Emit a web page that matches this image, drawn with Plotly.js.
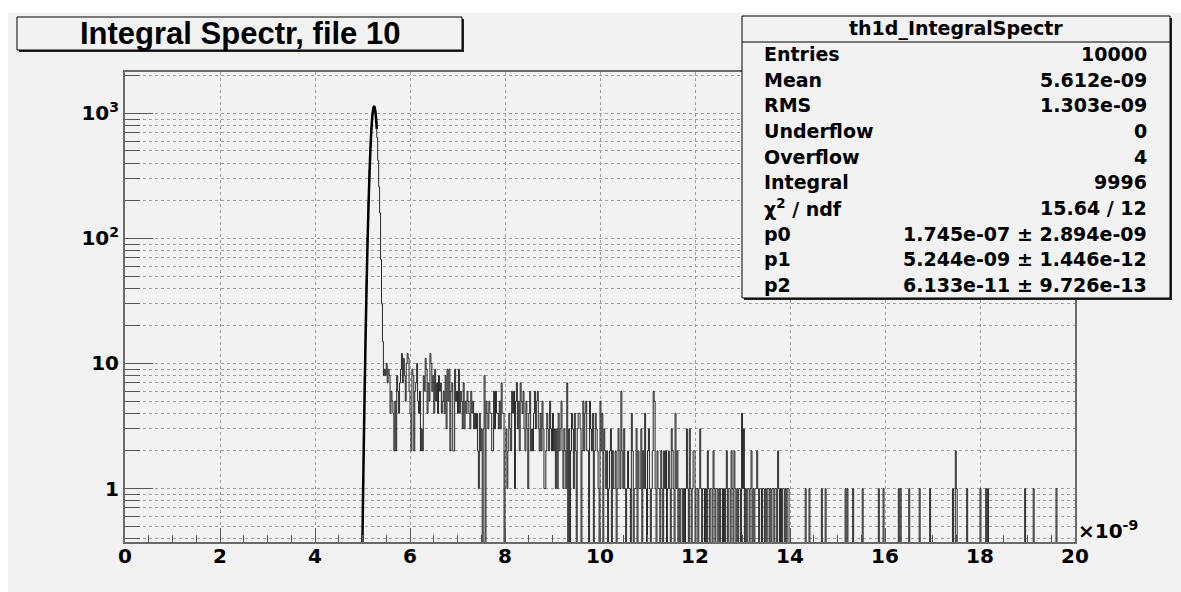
<!DOCTYPE html>
<html><head><meta charset="utf-8">
<script src="https://cdn.plot.ly/plotly-3.0.1.min.js"></script>
<style>html,body{margin:0;padding:0;background:#fff}</style>
</head><body><div id="chart" style="width:1181px;height:592px"></div>
<script>
// ---------- DATA ----------
const binWidth = 0.02;       // 1000 bins over [0, 20] (x 1e-9)
const nBins = 1000;

// peak region, bins starting at 4.98
const peakStart = 4.98;
const peakCounts = [0,1,3,8,21,47,102,198,352,545,772,968,1108,1135,1040,860,640,420,258,160,68,30,15,8];

// tail 5.46 .. 7.44
const tailAStart = 5.46;
const tailA = [9,8,10,7,9,8,4,6,5,4,
 2,5,2,8,6,4,7,9,12,7,
 11,8,5,10,12,11,6,4,2,9,
 8,2,6,7,10,5,4,6,2,3,
 2,8,6,11,9,4,7,5,12,10,
 6,8,4,9,5,7,4,8,6,7,
 4,5,6,4,8,3,9,5,9,2,
 6,7,2,2,9,5,6,4,9,4,
 6,5,3,7,3,5,4,6,5,4,
 3,6,4,5,3,4,3,4,2,1];

// tail 7.46 .. 9.52
const tailBStart = 7.46;
const tailB = [4,2,3,0,3,8,0,5,4,3,
 5,4,4,2,2,6,3,6,4,4,
 3,5,3,7,4,4,0,2,3,1,
 2,4,3,2,6,4,6,1,5,7,
 3,5,2,7,5,4,6,3,2,5,
 3,1,4,6,2,3,2,4,6,3,
 5,6,3,2,4,2,5,3,1,1,
 2,4,3,2,5,3,2,4,2,3,
 1,3,1,4,2,3,5,2,1,3,
 2,1,7,0,3,0,2,4,3,1,
 4,2,0,3];

// tail 9.54 .. 11.64
const tailCStart = 9.54;
const tailC = [4,4,3,0,2,5,2,4,5,2,
 2,0,5,3,2,4,0,2,4,3,
 2,1,0,5,2,4,0,3,2,1,
 2,0,1,2,3,0,2,1,1,2,
 0,1,3,2,1,6,2,1,3,1,
 0,1,2,1,1,0,4,2,0,1,
 1,3,0,2,1,1,3,0,2,1,
 4,1,0,2,3,1,0,1,2,6,
 5,1,0,2,1,1,0,2,1,0,
 2,1,2,0,1,2,1,0,3,2,
 1,0,4,1,2,0];

// tail 11.66 .. 13.98
const tailDStart = 11.66;
const tailD = [1,0,1,1,0,1,0,1,3,1,
 0,3,1,0,1,2,2,0,1,1,
 0,1,3,1,0,1,1,0,1,0,
 2,1,0,1,1,0,2,1,0,1,
 1,0,1,0,1,1,0,1,0,1,
 2,0,1,1,0,2,1,0,2,1,
 0,1,0,1,1,0,4,1,3,0,
 1,0,1,1,0,1,2,0,1,0,
 1,1,2,1,0,1,1,0,1,1,
 0,1,0,1,1,0,1,0,1,1,
 0,1,1,0,2,1,0,1,0,1,
 1,0,1,0,1,1,0];

// sparse region 14 .. 20 (bin low edge, count)
const sparseX = [14.32,14.40,14.66,14.74,15.16,15.20,15.32,15.52,15.86,15.96,16.28,16.32,16.50,16.72,16.94,17.42,17.48,17.50,17.72,18.00,18.12,18.16,18.94,19.12,19.60];
const sparseN = [1,1,1,1,1,1,1,1,1,1,1,1,1,1,1,1,2,1,1,1,1,1,1,1,1];

// fitted gaussian curve samples (fit range)
const fitX = [4.99,5.00,5.01,5.02,5.03,5.04,5.05,5.06,5.07,5.08,5.09,5.10,5.11,5.12,5.13,5.14,5.15,5.16,5.17,5.18,5.19,5.20,5.21,5.22,5.23,5.24,5.25,5.26,5.27,5.28,5.29,5.30];
const fitY = [0.214,0.415,0.783,1.44,2.58,4.49,7.62,12.6,20.3,31.8,48.5,72.0,104.3,147.0,201.6,269.4,350.6,444.2,548.0,658.2,770.4,877.5,973.3,1051.4,1105.7,1132.6,1129.6,1097.1,1037.4,955.3,856.7,748.1];

const xTickVals = [0,2,4,6,8,10,12,14,16,18,20];
const xMinorVals = [0.5,1,1.5,2.5,3,3.5,4.5,5,5.5,6.5,7,7.5,8.5,9,9.5,10.5,11,11.5,12.5,13,13.5,14.5,15,15.5,16.5,17,17.5,18.5,19,19.5];
const yTickVals = [1,10,100,1000];
const yTickText = ['1','10','10<sup>2</sup>','10<sup>3</sup>'];
const yMinorVals = [0.4,0.5,0.6,0.7,0.8,0.9,2,3,4,5,6,7,8,9,20,30,40,50,60,70,80,90,200,300,400,500,600,700,800,900,2000];

const titleText = 'Integral Spectr, file 10';
const statsName = 'th1d_IntegralSpectr';
const statsLabels = ['Entries','Mean','RMS','Underflow','Overflow','Integral','χ<sup>2</sup> / ndf','p0','p1','p2'];
const statsValues = ['10000','5.612e-09','1.303e-09','0','4','9996','15.64 / 12','1.745e-07 ± 2.894e-09','5.244e-09 ± 1.446e-12','6.133e-11 ± 9.726e-13'];
const xExponent = '×10<sup>-9</sup>';

// ---------- BUILD ----------
const counts = new Array(nBins).fill(0);
function put(start, arr){ const i0 = Math.round(start/binWidth); arr.forEach((v,k)=>{counts[i0+k]=v;}); }
put(peakStart, peakCounts);
put(tailAStart, tailA);
put(tailBStart, tailB);
put(tailCStart, tailC);
put(tailDStart, tailD);
sparseX.forEach((x,k)=>{ counts[Math.round(x/binWidth)] = sparseN[k]; });

const FLOOR = 1e-3; // zero bins drawn below the visible log range
const hx = [], hy = [];
for (let i=0;i<nBins;i++){ hx.push(i*binWidth); hy.push(counts[i]>0?counts[i]:FLOOR); }
hx.push(nBins*binWidth); hy.push(hy[hy.length-1]);

// ---------- LAYOUT ----------
const W=1181,H=592,L=125,R=1075,T=72,B=542;
const px = x => (x-L)/(R-L);
const py = y => (B-y)/(B-T);
const BG = '#f2f2f2';
const FONT_STATS = 'DejaVu Sans';
const FONT_TITLE = 'Liberation Sans';

const shapes = [
  {type:'rect',xref:'paper',yref:'paper',x0:px(0),x1:px(W),y0:py(0),y1:py(13),fillcolor:'#fff',line:{width:0},layer:'above'},
  {type:'rect',xref:'paper',yref:'paper',x0:px(0),x1:px(8),y0:py(0),y1:py(H),fillcolor:'#fff',line:{width:0},layer:'above'},
  // title box
  {type:'rect',xref:'paper',yref:'paper',x0:px(19),x1:px(464),y0:py(52),y1:py(19),fillcolor:'#222',line:{width:0},layer:'above'},
  {type:'rect',xref:'paper',yref:'paper',x0:px(17),x1:px(462),y0:py(50),y1:py(17),fillcolor:BG,line:{color:'#000',width:1},layer:'above'},
  // stats box
  {type:'rect',xref:'paper',yref:'paper',x0:px(744),x1:px(1172),y0:py(300),y1:py(18),fillcolor:'#222',line:{width:0},layer:'above'},
  {type:'rect',xref:'paper',yref:'paper',x0:px(742),x1:px(1170),y0:py(298),y1:py(16),fillcolor:BG,line:{color:'#000',width:1},layer:'above'},
  {type:'line',xref:'paper',yref:'paper',x0:px(742),x1:px(1170),y0:py(42),y1:py(42),line:{color:'#000',width:1},layer:'above'}
];

const annotations = [
  {xref:'paper',yref:'paper',x:px(240),y:py(33.5),xanchor:'center',yanchor:'middle',showarrow:false,text:titleText,
   font:{family:FONT_TITLE,size:31,weight:700,color:'#000'}},
  {xref:'paper',yref:'paper',x:px(956),y:py(29),xanchor:'center',yanchor:'middle',showarrow:false,text:statsName,
   font:{family:FONT_STATS,size:19,weight:700,color:'#000'}},
  {xref:'paper',yref:'paper',x:px(1076),y:py(530),xanchor:'left',yanchor:'middle',showarrow:false,text:xExponent,
   font:{family:FONT_STATS,size:20,weight:700,color:'#000'}}
];
const rowY0 = 54, rowStep = 25.65;
statsLabels.forEach((lab,k)=>{
  annotations.push({xref:'paper',yref:'paper',x:px(762),y:py(rowY0+k*rowStep),xanchor:'left',yanchor:'middle',showarrow:false,text:lab,
    font:{family:FONT_STATS,size:19,weight:700,color:'#000'}});
  annotations.push({xref:'paper',yref:'paper',x:px(1149),y:py(rowY0+k*rowStep),xanchor:'right',yanchor:'middle',showarrow:false,text:statsValues[k],
    font:{family:FONT_STATS,size:19,weight:700,color:'#000'}});
});

const gridStyle = {gridcolor:'#a0a0a0',griddash:'dot',gridwidth:1};

const layout = {
  width:W,height:H,
  margin:{l:L,r:W-R,t:T,b:H-B,pad:0},
  paper_bgcolor:BG, plot_bgcolor:BG,
  showlegend:false,
  xaxis:{range:[0,20],tickmode:'array',tickvals:xTickVals,ticktext:xTickVals.map(String),
    ticks:'inside',ticklen:14,tickcolor:'#555',tickwidth:1,ticklabelstandoff:-5,
    showline:true,linecolor:'#6a6a6a',linewidth:2,mirror:true,zeroline:false,
    showgrid:true,...gridStyle,
    minor:{tickmode:'array',tickvals:xMinorVals,ticks:'inside',ticklen:7,tickcolor:'#555',showgrid:false},
    tickfont:{family:FONT_STATS,size:20,weight:700,color:'#000'}},
  yaxis:{type:'log',range:[-0.427,3.33],tickmode:'array',tickvals:yTickVals,ticktext:yTickText,
    ticks:'inside',ticklen:28,tickcolor:'#555',tickwidth:1,
    showline:true,linecolor:'#6a6a6a',linewidth:2,mirror:true,zeroline:false,
    showgrid:true,...gridStyle,
    minor:{tickmode:'array',tickvals:yMinorVals,ticks:'inside',ticklen:15,tickcolor:'#555',showgrid:true,...gridStyle},
    tickfont:{family:FONT_STATS,size:20,weight:700,color:'#000'}},
  shapes, annotations
};

const traces = [
  {type:'scatter',mode:'lines',x:hx,y:hy,line:{shape:'hv',width:1,color:'#2a2a2a'},hoverinfo:'skip'},
  {type:'scatter',mode:'lines',x:fitX,y:fitY,line:{shape:'spline',width:2.5,color:'#000'},hoverinfo:'skip'}
];

Plotly.newPlot('chart',traces,layout,{staticPlot:true,displayModeBar:false});
</script></body></html>
